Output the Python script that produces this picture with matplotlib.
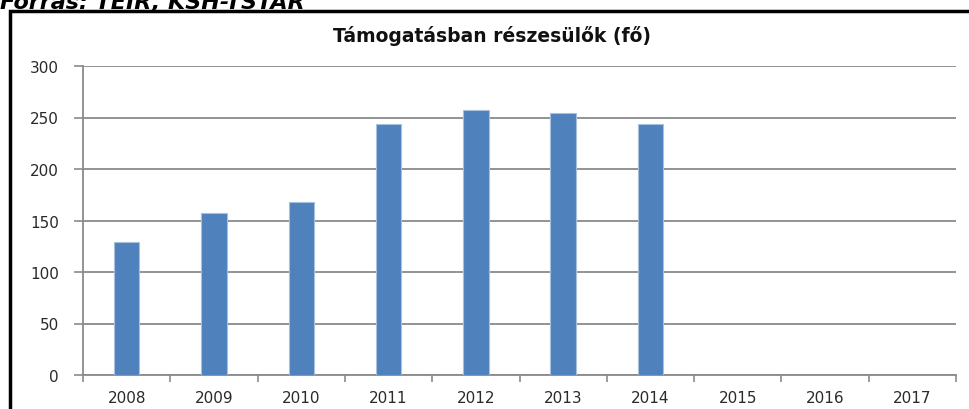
import numpy as np
import matplotlib
matplotlib.use("Agg")
import matplotlib.pyplot as plt
from matplotlib.patches import Rectangle

years = ['2008', '2009', '2010', '2011', '2012', '2013', '2014', '2015', '2016', '2017']
values = [129, 157, 168, 244, 257, 254, 244, np.nan, np.nan, np.nan]
yticks = [0, 50, 100, 150, 200, 250, 300]

fig = plt.figure(figsize=(9.7, 4.1), dpi=100)
ax = fig.add_axes([83 / 970, 1 - 376 / 410, (956 - 83) / 970, (376 - 67) / 410])

x = np.arange(len(years))
vals = np.array(values, dtype=float)
mask = ~np.isnan(vals)
ax.bar(x[mask], vals[mask], width=0.29, color='#4F81BD', edgecolor='#A7C0DE', linewidth=0.8, zorder=3)

ax.set_xlim(-0.5, len(years) - 0.5)
ax.set_ylim(0, 300)
ax.set_yticks(yticks)
ax.set_yticklabels([str(v) for v in yticks])
ax.set_xticks(x)
ax.set_xticklabels(years)
ax.set_xticks(np.arange(-0.5, len(years)), minor=True)

ax.yaxis.grid(True, color='#8a8a8a', linewidth=1.3, zorder=0)
ax.tick_params(axis='x', which='major', length=0, pad=11, labelsize=11, labelcolor='#2a2a2a')
ax.tick_params(axis='x', which='minor', length=5, width=1.2, color='#8a8a8a', direction='out')
ax.tick_params(axis='y', length=6.5, width=1.2, color='#8a8a8a', pad=11, labelsize=11, labelcolor='#2a2a2a')

for s in ['top', 'right']:
    ax.spines[s].set_visible(False)
for s in ['left', 'bottom']:
    ax.spines[s].set_color('#8a8a8a')
    ax.spines[s].set_linewidth(1.3)

fig.text(492 / 970, 1 - 36 / 410, 'Támogatásban részesülők (fő)', ha='center', va='center',
         fontsize=13.5, fontweight='bold', family='DejaVu Sans', color='#111111')

fig.text(0.0, 1 - 9 / 410, 'Forrás: TEIR, KSH-TSTAR', ha='left', va='baseline',
         fontsize=16, fontweight='bold', fontstyle='italic', family='DejaVu Sans')

border = Rectangle((10 / 970, -0.1), 1.2, 1 - 12 / 410 + 0.1, transform=fig.transFigure,
                   fill=False, edgecolor='black', linewidth=2.5, clip_on=False)
fig.patches.append(border)

fig.savefig('out.png', dpi=100)
